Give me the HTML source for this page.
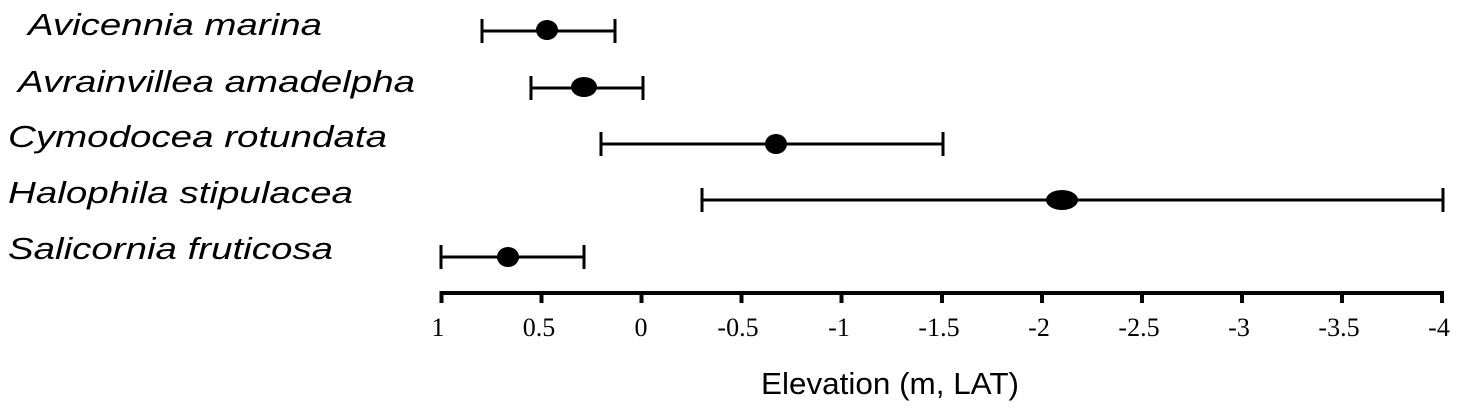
<!DOCTYPE html>
<html><head><meta charset="utf-8"><style>html,body{margin:0;padding:0;background:#fff}svg{display:block}</style></head>
<body>
<svg width="1461" height="411" viewBox="0 0 1461 411" xmlns="http://www.w3.org/2000/svg">
<g font-family="Liberation Sans, sans-serif" font-style="italic" font-size="31" fill="#000">
<text x="28" y="35" textLength="294" lengthAdjust="spacingAndGlyphs">Avicennia marina</text>
<text x="18" y="92" textLength="397" lengthAdjust="spacingAndGlyphs">Avrainvillea amadelpha</text>
<text x="8" y="147" textLength="379" lengthAdjust="spacingAndGlyphs">Cymodocea rotundata</text>
<text x="8" y="203" textLength="345" lengthAdjust="spacingAndGlyphs">Halophila stipulacea</text>
<text x="8" y="259" textLength="325" lengthAdjust="spacingAndGlyphs">Salicornia fruticosa</text>
</g>
<g stroke="#000" stroke-width="3" fill="none">
<path d="M482 31H615M482 19V43M615 19V43"/>
<path d="M531 88H643M531 76V100M643 76V100"/>
<path d="M601 144H943M601 132V156M943 132V156"/>
<path d="M702 200H1443M702 188V212M1443 188V212"/>
<path d="M441 257H584M441 245V269M584 245V269"/>
</g>
<g fill="#000">
<ellipse cx="547" cy="30" rx="11" ry="10"/>
<ellipse cx="584" cy="87" rx="13" ry="10"/>
<ellipse cx="776" cy="144" rx="11" ry="10"/>
<ellipse cx="1062" cy="200" rx="16" ry="10"/>
<ellipse cx="508" cy="257" rx="11" ry="10"/>
</g>
<path d="M440 293H1444" stroke="#000" stroke-width="4"/>
<g stroke="#000" stroke-width="4">
<path d="M441.5 291V303M541.5 291V303M641.5 291V303M741.5 291V303M841.5 291V303M942 291V303M1042 291V303M1142 291V303M1242 291V303M1342 291V303M1442 291V303"/>
</g>
<g font-family="Liberation Serif, serif" font-size="26" text-anchor="middle" fill="#000">
<text x="438" y="336">1</text><text x="539" y="336">0.5</text><text x="641" y="336">0</text>
<text x="738" y="336">-0.5</text><text x="839" y="336">-1</text><text x="939" y="336">-1.5</text>
<text x="1039" y="336">-2</text><text x="1139" y="336">-2.5</text><text x="1239" y="336">-3</text>
<text x="1339" y="336">-3.5</text><text x="1439" y="336">-4</text>
</g>
<text x="890" y="394" font-family="Liberation Sans, sans-serif" font-size="31" text-anchor="middle" textLength="258" lengthAdjust="spacingAndGlyphs">Elevation (m, LAT)</text>
</svg>
</body></html>
